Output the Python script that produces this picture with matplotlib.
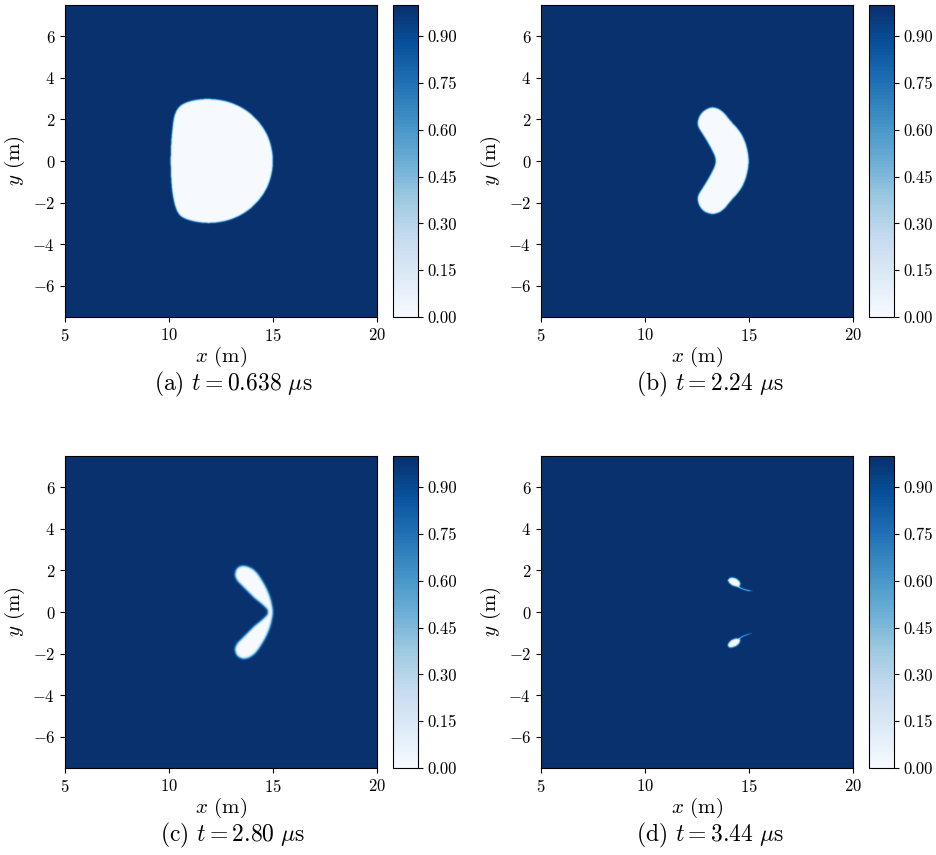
import numpy as np
import matplotlib
matplotlib.use("Agg")
import matplotlib.pyplot as plt
from matplotlib.path import Path

plt.rcParams['font.family'] = 'serif'
plt.rcParams['font.serif'] = ['cmr10', 'DejaVu Serif']
plt.rcParams['mathtext.fontset'] = 'cm'
plt.rcParams['axes.formatter.use_mathtext'] = True
plt.rcParams['axes.unicode_minus'] = True

#%% bubble outlines (x, y in m)
a_x = [12.0, 12.9, 13.7, 14.3, 14.75, 14.97, 15.02, 14.97, 14.75, 14.3, 13.7, 12.9,
       12.0, 11.2, 10.55, 10.3, 10.15, 10.08, 10.06, 10.08, 10.15, 10.25, 10.55, 11.2]
a_y = [3.02, 2.88, 2.5, 1.97, 1.3, 0.6, 0.0, -0.6, -1.3, -1.97, -2.5, -2.88,
       -3.02, -2.94, -2.72, -2.3, -1.6, -0.8, 0.0, 0.8, 1.6, 2.3, 2.74, 2.96]

b_x = [13.2, 13.55, 13.85, 14.1, 14.45, 14.7, 14.9, 15.0, 15.0, 14.9, 14.7, 14.45,
       14.1, 13.85, 13.55, 13.2, 12.85, 12.6, 12.5, 12.55, 12.75, 13.1, 13.32, 13.4,
       13.32, 13.1, 12.75, 12.55, 12.5, 12.6, 12.85]
b_y = [2.62, 2.54, 2.3, 1.97, 1.6, 1.25, 0.75, 0.2, -0.2, -0.75, -1.25, -1.6,
       -1.97, -2.3, -2.52, -2.58, -2.47, -2.2, -1.85, -1.6, -1.3, -0.72, -0.3, 0.0,
       0.3, 0.72, 1.3, 1.6, 1.85, 2.2, 2.47]

c_x = [13.6, 13.9, 14.2, 14.45, 14.7, 14.87, 14.97, 15.02, 14.97, 14.87, 14.7, 14.45,
       14.2, 13.9, 13.6, 13.35, 13.2, 13.15, 13.22, 13.4, 13.75, 14.05, 14.4, 14.86,
       14.4, 14.05, 13.75, 13.4, 13.22, 13.15, 13.2, 13.35]
c_y = [2.25, 2.17, 1.97, 1.6, 1.17, 0.75, 0.35, 0.0, -0.35, -0.75, -1.17, -1.6,
       -1.97, -2.2, -2.28, -2.2, -2.05, -1.78, -1.55, -1.35, -1.0, -0.69, -0.42, 0.0,
       0.42, 0.69, 1.0, 1.35, 1.55, 1.78, 2.05, 2.2]

# (d): two droplets with thin tails
d1_x = [13.95, 14.05, 14.2, 14.4, 14.55, 14.62, 14.55, 14.4, 14.2, 14.03]
d1_y = [1.55, 1.65, 1.68, 1.63, 1.5, 1.35, 1.24, 1.2, 1.25, 1.38]
t1_x = [14.45, 14.75, 15.0, 15.2, 15.0, 14.75, 14.45]
t1_y = [1.25, 1.12, 1.05, 1.03, 0.99, 1.06, 1.18]
d2_x = [13.95, 14.03, 14.2, 14.4, 14.55, 14.6, 14.52, 14.35, 14.15, 14.02]
d2_y = [-1.6, -1.72, -1.72, -1.65, -1.52, -1.35, -1.27, -1.25, -1.33, -1.45]
t2_x = [14.5, 14.75, 15.0, 15.2, 15.0, 14.75, 14.5]
t2_y = [-1.25, -1.12, -1.04, -1.0, -1.08, -1.17, -1.32]

shapes = [[(a_x, a_y)], [(b_x, b_y)], [(c_x, c_y)],
          [(d1_x, d1_y), (t1_x, t1_y), (d2_x, d2_y), (t2_x, t2_y)]]
rounding = [3, 3, 3, 0]   # corner-cutting passes on the outlines
letters = ['a', 'b', 'c', 'd']
times = ['0.638', '2.24', '2.80', '3.44']
blur_w = [2, 2, 3, 2]   # interface width in grid cells

#%%
n = 750
xg = np.linspace(5, 20, n)
yg = np.linspace(-7.5, 7.5, n)
X, Y = np.meshgrid(xg, yg)
pts = np.column_stack([X.ravel(), Y.ravel()])


def chaikin(p, it):
    for _ in range(it):
        q = np.roll(p, -1, axis=0)
        p = np.column_stack([0.75 * p + 0.25 * q, 0.25 * p + 0.75 * q]).reshape(-1, 2)
    return p


def blur(f, s):
    r = 3 * s
    k = np.exp(-0.5 * (np.arange(-r, r + 1) / s) ** 2)
    k /= k.sum()
    f = np.pad(f, r, mode='edge')
    f = np.apply_along_axis(lambda v: np.convolve(v, k, mode='same'), 0, f)
    f = np.apply_along_axis(lambda v: np.convolve(v, k, mode='same'), 1, f)
    return f[r:-r, r:-r]


def field(polys, it, s):
    inside = np.zeros(len(pts), dtype=bool)
    for px, py in polys:
        p = chaikin(np.column_stack([px, py]), it)
        inside |= Path(p).contains_points(pts)
    f = np.where(inside, 0.0, 1.0).reshape(X.shape)
    return np.clip(blur(f, s), 0, 1)


fig = plt.figure(figsize=(9.36, 8.55), dpi=100)
W, H = 936., 855.
lefts = [65, 541]
tops = [5, 456]
cap_x = [233, 710]
cap_y = [384, 835]
levels = np.linspace(0, 1, 101)

for k in range(4):
    r, c = divmod(k, 2)
    l, t = lefts[c], tops[r]
    ax = fig.add_axes([l / W, 1 - (t + 312) / H, 312 / W, 312 / H])
    cax = fig.add_axes([(l + 328) / W, 1 - (t + 312) / H, 25 / W, 312 / H])
    F = field(shapes[k], rounding[k], blur_w[k])
    cs = ax.contourf(X, Y, F, levels=levels, cmap='Blues', vmin=0, vmax=1)
    cb = fig.colorbar(cs, cax=cax)
    cb.set_ticks([0.0, 0.15, 0.30, 0.45, 0.60, 0.75, 0.90])
    cb.set_ticklabels(['0.00', '0.15', '0.30', '0.45', '0.60', '0.75', '0.90'])
    cb.ax.tick_params(labelsize=12)
    ax.set_xlim(5, 20)
    ax.set_ylim(-7.5, 7.5)
    ax.set_xticks([5, 10, 15, 20])
    ax.set_yticks([-6, -4, -2, 0, 2, 4, 6])
    ax.tick_params(labelsize=12)
    ax.set_xlabel(r'$x$ (m)', fontsize=15, labelpad=1)
    ax.set_ylabel(r'$y$ (m)', fontsize=15)
    fig.text(cap_x[c] / W, 1 - cap_y[r] / H,
             '(' + letters[k] + r') $t = ' + times[k] + r'\ \mu$s',
             ha='center', va='center', fontsize=17)

fig.savefig('out.png', dpi=100)
